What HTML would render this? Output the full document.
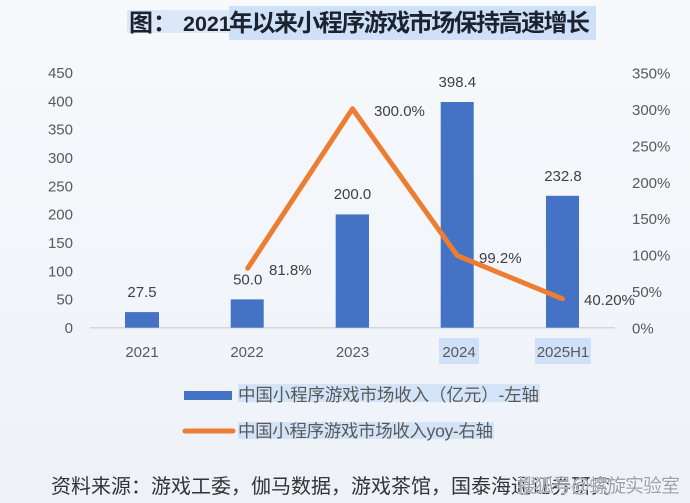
<!DOCTYPE html>
<html>
<head>
<meta charset="utf-8">
<style>
html,body{margin:0;padding:0;background:#f2f5fa;}
svg{display:block;}
</style>
</head>
<body>
<svg width="690" height="503" viewBox="0 0 690 503" xmlns="http://www.w3.org/2000/svg">
<defs>
<linearGradient id="bg" x1="0" y1="0" x2="0" y2="1">
<stop offset="0" stop-color="#f7f9fc"/>
<stop offset="1" stop-color="#eef2f8"/>
</linearGradient>
</defs>
<rect x="0" y="0" width="690" height="503" fill="url(#bg)"/>

<!-- Title highlights -->
<rect x="127" y="10" width="102" height="23" fill="#dce8f7"/>
<rect x="229" y="6" width="367" height="34" fill="#cfe1f8"/>
<g font-family="'Liberation Sans','Noto Sans CJK SC',sans-serif" font-weight="bold" fill="#1c2330" font-size="24">
<text x="129" y="31">图：</text>
<text x="183" y="31" font-size="21.5">2021</text>
<text x="229" y="31" textLength="361" lengthAdjust="spacing">年以来小程序游戏市场保持高速增长</text>
</g>

<!-- axis line -->
<line x1="90" y1="327.7" x2="615" y2="327.7" stroke="#d4d7dc" stroke-width="1.5"/>

<!-- left ticks -->
<g font-family="'Liberation Sans',sans-serif" font-size="15" fill="#595959" text-anchor="end">
<text x="73" y="78">450</text>
<text x="73" y="106.3">400</text>
<text x="73" y="134.6">350</text>
<text x="73" y="163">300</text>
<text x="73" y="191.3">250</text>
<text x="73" y="219.6">200</text>
<text x="73" y="248">150</text>
<text x="73" y="276.3">100</text>
<text x="73" y="304.6">50</text>
<text x="73" y="333">0</text>
</g>

<!-- right ticks -->
<g font-family="'Liberation Sans',sans-serif" font-size="15" fill="#595959">
<text x="632" y="78.5">350%</text>
<text x="632" y="115">300%</text>
<text x="632" y="151.4">250%</text>
<text x="632" y="187.8">200%</text>
<text x="632" y="224.2">150%</text>
<text x="632" y="260.6">100%</text>
<text x="632" y="297">50%</text>
<text x="632" y="333.4">0%</text>
</g>

<!-- x label highlights -->
<rect x="439" y="338" width="40" height="26" fill="#cfe1f8"/>
<rect x="535" y="338" width="56" height="26" fill="#cfe1f8"/>
<g font-family="'Liberation Sans',sans-serif" font-size="15" fill="#595959" text-anchor="middle">
<text x="142" y="357">2021</text>
<text x="247" y="357">2022</text>
<text x="352.5" y="357">2023</text>
<text x="459" y="357">2024</text>
<text x="563" y="357">2025H1</text>
</g>

<!-- bars -->
<g fill="#4472c4">
<rect x="125" y="312.1" width="34" height="15.6"/>
<rect x="230.7" y="299.4" width="33" height="28.3"/>
<rect x="335.7" y="214.4" width="33.3" height="113.3"/>
<rect x="440.7" y="102" width="33" height="225.7"/>
<rect x="546" y="195.8" width="33" height="131.9"/>
</g>

<!-- line -->
<polyline points="247.7,268.3 352.5,108.8 457.2,255.6 562.5,298.8" fill="none" stroke="#ed7d31" stroke-width="5" stroke-linejoin="round" stroke-linecap="round"/>

<!-- data labels -->
<g font-family="'Liberation Sans',sans-serif" font-size="15" fill="#404040">
<text x="142" y="297" text-anchor="middle">27.5</text>
<text x="247.7" y="284.5" text-anchor="middle">50.0</text>
<text x="269" y="275">81.8%</text>
<text x="352.5" y="199" text-anchor="middle">200.0</text>
<text x="374" y="116">300.0%</text>
<text x="457.3" y="87" text-anchor="middle">398.4</text>
<text x="479" y="263">99.2%</text>
<text x="563" y="181" text-anchor="middle">232.8</text>
<text x="584" y="305">40.20%</text>
</g>

<!-- legend -->
<rect x="238" y="384" width="302" height="18" fill="#d3e4f8"/>
<rect x="238" y="422" width="256" height="17" fill="#d3e4f8"/>
<rect x="184" y="391" width="48" height="9" fill="#4472c4"/>
<line x1="185" y1="431" x2="233" y2="431" stroke="#ed7d31" stroke-width="5" stroke-linecap="round"/>
<g font-family="'Liberation Sans','Noto Sans CJK SC',sans-serif" font-size="17.5" fill="#595959">
<text x="238" y="401" textLength="301" lengthAdjust="spacing">中国小程序游戏市场收入（亿元）-左轴</text>
<text x="238" y="437" textLength="255" lengthAdjust="spacing">中国小程序游戏市场收入yoy-右轴</text>
</g>

<!-- footer -->
<g font-family="'Liberation Sans','Noto Sans CJK SC',sans-serif" font-size="20" fill="#333333">
<text x="51" y="493" textLength="560" lengthAdjust="spacing">资料来源：游戏工委，伽马数据，游戏茶馆，国泰海通证券研究</text>
</g>
<g font-family="'Liberation Sans','Noto Sans CJK SC',sans-serif" font-size="19" fill="#9aa0a8" stroke="#ffffff" stroke-width="0.8" paint-order="stroke">
<text x="517" y="492" textLength="163" lengthAdjust="spacing">搜狐号@螺旋实验室</text>
</g>
</svg>
</body>
</html>
